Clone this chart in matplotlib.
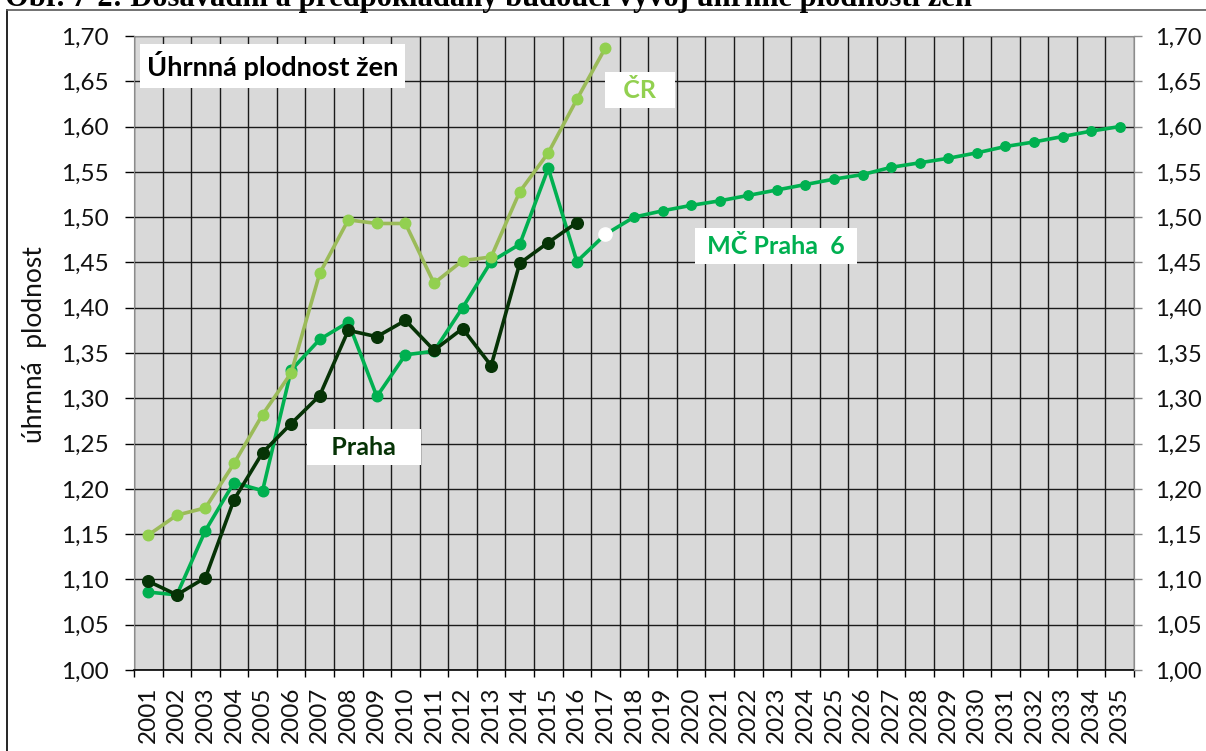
import numpy as np
import matplotlib.pyplot as plt
from matplotlib.ticker import FuncFormatter
from matplotlib.lines import Line2D

plt.rcParams['font.family'] = ['Lato', 'DejaVu Sans']

years = list(range(2001, 2036))
cr = [1.149, 1.171, 1.179, 1.228, 1.282, 1.328, 1.438, 1.497, 1.493, 1.493,
      1.427, 1.452, 1.456, 1.528, 1.571, 1.630, 1.687]
praha = [1.098, 1.083, 1.102, 1.188, 1.240, 1.272, 1.303, 1.375, 1.368, 1.386,
         1.353, 1.377, 1.336, 1.449, 1.472, 1.494]
mc_praha6 = [1.086, 1.083, 1.154, 1.207, 1.198, 1.331, 1.365, 1.384, 1.302, 1.348,
             1.352, 1.400, 1.451, 1.470, 1.554, 1.451, 1.481, 1.500, 1.507, 1.513,
             1.518, 1.524, 1.530, 1.536, 1.542, 1.547, 1.555, 1.560, 1.565, 1.571,
             1.578, 1.583, 1.589, 1.595, 1.600]
yticks = np.arange(1.00, 1.701, 0.05)

c_cr_line, c_cr_mark = '#9BBB59', '#92D050'
c_praha = '#063306'
c_mc = '#00B050'

W, H = 1206, 751
fig = plt.figure(figsize=(W / 100, H / 100), dpi=100)
ax = fig.add_axes([134 / W, 1 - 670 / H, 1000 / W, 634 / H])
ax.set_facecolor('#D9D9D9')
x = np.arange(len(years))

# MC Praha 6: history + projection
ax.plot(x[:len(mc_praha6)], mc_praha6, color=c_mc, lw=2.6, zorder=3)
ax.plot(x[:16], mc_praha6[:16], ls='none', marker='o', ms=7.6, color=c_mc, zorder=3)
ax.plot(x[17:], mc_praha6[17:], ls='none', marker='o', ms=6.8, color=c_mc, zorder=3)
ax.plot(x[16], mc_praha6[16], ls='none', marker='o', ms=9.5, mfc='white', mec='white', zorder=4)

# Praha
ax.plot(x[:len(praha)], praha, color=c_praha, lw=2.6, marker='o', ms=8.4, zorder=4)

# CR
ax.plot(x[:len(cr)], cr, color=c_cr_line, lw=2.6, zorder=5)
ax.plot(x[:len(cr)], cr, ls='none', marker='o', ms=7.6, color=c_cr_mark, zorder=5)

ax.set_xlim(-0.5, len(years) - 0.5)
ax.set_ylim(1.0, 1.7)

fmt = FuncFormatter(lambda v, p: f'{v:.2f}'.replace('.', ','))

ax.set_xticks(np.arange(-0.5, len(years), 1))
ax.set_xticks(x, minor=True)
ax.set_xticklabels([str(y) for y in years], minor=True, rotation=90)
ax.tick_params(axis='x', which='major', length=5, width=1, color='black', labelbottom=False)
ax.tick_params(axis='x', which='minor', length=0, pad=12, labelsize=17.5, labelcolor='#111111')
ax.set_yticks(yticks)
ax.yaxis.set_major_formatter(fmt)
ax.tick_params(axis='y', length=6.5, width=1, pad=12, labelsize=17.5, color='black',
               labelcolor='#111111')
ax.grid(True, which='major', color='#1a1a1a', lw=1.0)
ax.set_axisbelow(True)

for s in ['left', 'top', 'right']:
    ax.spines[s].set_color('#8c8c8c')
ax.spines['bottom'].set_color('black')
ax.spines['bottom'].set_linewidth(1.2)

ax2 = ax.twinx()
ax2.set_ylim(1.0, 1.7)
ax2.set_yticks(yticks)
ax2.yaxis.set_major_formatter(fmt)
ax2.tick_params(axis='y', length=6, width=1, pad=9, labelsize=17, color='#8c8c8c',
                labelcolor='#111111')
for s in ['left', 'top', 'bottom']:
    ax2.spines[s].set_visible(False)
ax2.spines['right'].set_color('#8c8c8c')

fig.text(35 / W, 1 - 345 / H, 'úhrnná  plodnost', rotation=90, ha='center', va='center',
         fontsize=19, color='#111111')

box = dict(boxstyle='square,pad=0.26', fc='white', ec='none')
ax.text(0.013, 0.9527, 'Úhrnná plodnost žen', transform=ax.transAxes, ha='left', va='center',
        fontsize=19.5, weight='bold', color='black', bbox=box, zorder=6)
ax.text(17.21, 1.640, '  ČR  ', ha='center', va='center', fontsize=18, weight='bold',
        color=c_cr_mark, bbox=box, zorder=6)
ax.text(7.55, 1.246, '   Praha   ', ha='center', va='center', fontsize=18, weight='bold',
        color=c_praha, bbox=box, zorder=6)
ax.text(21.97, 1.468, ' MČ Praha  6 ', ha='center', va='center', fontsize=18, weight='bold',
        color=c_mc, bbox=box, zorder=6)

# outer chart frame and the clipped caption above it
fig.add_artist(Line2D([7 / W, 7 / W], [0, 1 - 10 / H], color='black', lw=1.2,
                      transform=fig.transFigure))
fig.add_artist(Line2D([7 / W, 1], [1 - 10 / H, 1 - 10 / H], color='#595959', lw=1.2,
                      transform=fig.transFigure))
fig.text(5 / W, 1 - 6 / H, 'Obr. 7-2: Dosavadní a předpokládaný budoucí vývoj úhrnné plodnosti žen',
         family='Liberation Serif', weight='bold', fontsize=22, ha='left', va='baseline')

fig.savefig('out.png', dpi=100)
